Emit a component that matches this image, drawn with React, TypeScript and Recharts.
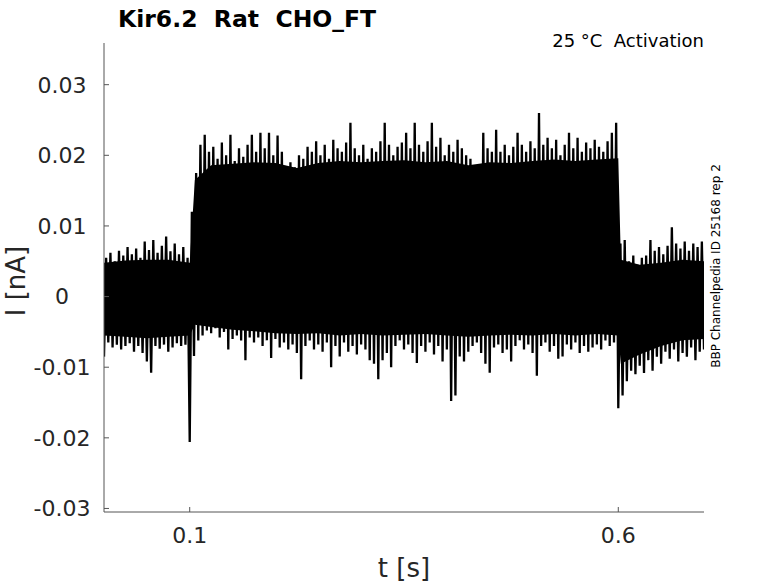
import { Area, ComposedChart, Line, XAxis, YAxis } from "recharts";

// ---- sweep envelope, every 5 ms (nA) ----
const STEP = 0.005;

// upper spikes
const traceHigh = [
  0.0055, 0.0062, 0.005, 0.0065, 0.0058, 0.007, 0.006, 0.0068, 0.0055, 0.0078,
  0.0066, 0.008, 0.0062, 0.0072, 0.0085, 0.0064, 0.0075, 0.006, 0.007, 0.0055,
  0.012, 0.0175, 0.0215, 0.0229, 0.0205, 0.0212, 0.0195, 0.0218, 0.02, 0.0229,
  0.0192, 0.021, 0.0198, 0.0215, 0.0229, 0.0205, 0.0232, 0.021, 0.0232, 0.02,
  0.0228, 0.0205, 0.0185, 0.019, 0.0183, 0.02, 0.0195, 0.0212, 0.0205, 0.022,
  0.02, 0.0215, 0.0195, 0.0222, 0.021, 0.0205, 0.0218, 0.0246, 0.021, 0.02,
  0.0215, 0.0195, 0.021, 0.0205, 0.022, 0.0246, 0.0215, 0.02, 0.0212, 0.0218,
  0.0232, 0.021, 0.0246, 0.0215, 0.0205, 0.022, 0.0246, 0.0212, 0.0225, 0.02,
  0.0215, 0.0205, 0.0222, 0.021, 0.02, 0.0195, 0.018, 0.0185, 0.0232, 0.021,
  0.0205, 0.0236, 0.0205, 0.0215, 0.02, 0.0212, 0.0232, 0.0215, 0.0205, 0.022,
  0.021, 0.026, 0.0215, 0.0225, 0.021, 0.0222, 0.02, 0.0215, 0.0232, 0.021,
  0.0225, 0.0205, 0.0218, 0.021, 0.0222, 0.0212, 0.0205, 0.022, 0.0232, 0.0246,
  0.0075, 0.008, 0.005, 0.0058, 0.0045, 0.0055, 0.0058, 0.008, 0.0065, 0.007,
  0.006, 0.0072, 0.0098, 0.0075, 0.0068, 0.0078, 0.0065, 0.0075, 0.007, 0.0078,
  0.006,
];

// lower spikes
const traceLow = [
  -0.0085, -0.0065, -0.0072, -0.0068, -0.0075, -0.007, -0.0066, -0.0078, -0.007, -0.008,
  -0.0092, -0.0108, -0.007, -0.0074, -0.0068, -0.0078, -0.0072, -0.0066, -0.007, -0.0068,
  -0.0206, -0.0084, -0.0062, -0.0055, -0.0048, -0.0052, -0.0045, -0.0058, -0.005, -0.0075,
  -0.006, -0.0055, -0.0062, -0.009, -0.0058, -0.0065, -0.0058, -0.007, -0.0062, -0.0087,
  -0.006, -0.0072, -0.0065, -0.0075, -0.0068, -0.008, -0.0117, -0.007, -0.0062, -0.0075,
  -0.0068, -0.0078, -0.0065, -0.01, -0.007, -0.0085, -0.0065, -0.0078, -0.007, -0.0082,
  -0.0068, -0.0075, -0.009, -0.0095, -0.0117, -0.009, -0.008, -0.01, -0.007, -0.0062,
  -0.0075, -0.0068, -0.008, -0.0094, -0.007, -0.0078, -0.0065, -0.0082, -0.007, -0.0092,
  -0.0075, -0.0148, -0.014, -0.0085, -0.0092, -0.0078, -0.007, -0.0065, -0.008, -0.0095,
  -0.0108, -0.0072, -0.0068, -0.008, -0.0075, -0.0092, -0.007, -0.0062, -0.0075, -0.0068,
  -0.008, -0.0112, -0.007, -0.0065, -0.0078, -0.007, -0.0088, -0.0085, -0.0068, -0.0075,
  -0.0065, -0.008, -0.007, -0.0078, -0.0072, -0.0068, -0.0075, -0.0062, -0.007, -0.0065,
  -0.0158, -0.014, -0.012, -0.0105, -0.011, -0.0098, -0.0108, -0.009, -0.0105, -0.0085,
  -0.0095, -0.0078, -0.0088, -0.0075, -0.0092, -0.008, -0.0085, -0.0072, -0.009, -0.0078,
  -0.0075,
];

// dense body of the overlaid sweeps
const coreT = [
  0, 0.025, 0.05, 0.075, 0.1, 0.106, 0.125, 0.15, 0.175, 0.2, 0.225, 0.25, 0.275, 0.3, 0.325,
  0.35, 0.375, 0.4, 0.425, 0.45, 0.475, 0.5, 0.525, 0.55, 0.575, 0.6, 0.603, 0.625, 0.65,
  0.675, 0.7,
];
const coreHigh = [
  0.0048, 0.0051, 0.0052, 0.0052, 0.0048, 0.0165, 0.0186, 0.0188, 0.019, 0.0189, 0.0182,
  0.0189, 0.0192, 0.019, 0.0192, 0.0193, 0.019, 0.0192, 0.0186, 0.019, 0.0189, 0.0192,
  0.0194, 0.0192, 0.0194, 0.0196, 0.0052, 0.0045, 0.0048, 0.0052, 0.005,
];
const coreLow = [
  -0.0055, -0.0057, -0.0059, -0.0057, -0.0055, -0.004, -0.0043, -0.0047, -0.0049, -0.0052,
  -0.0053, -0.0052, -0.0055, -0.0053, -0.0055, -0.0054, -0.0053, -0.0055, -0.0057, -0.0055,
  -0.0054, -0.0055, -0.0053, -0.0055, -0.0053, -0.0055, -0.0095, -0.0082, -0.007, -0.0062,
  -0.006,
];

const xTicks = [0.1, 0.6];
const yTicks = [-0.03, -0.02, -0.01, 0, 0.01, 0.02, 0.03];

// low sample then high sample, half a step apart
const zigRows: { t: number; v: number }[] = [];
traceLow.forEach((lo, i) => {
  zigRows.push({ t: i * STEP, v: lo });
  zigRows.push({ t: i * STEP + STEP / 2, v: traceHigh[i] });
});

const coreRows = coreT.map((t, i) => ({ t, band: [coreLow[i], coreHigh[i]] }));

const FONT = "DejaVu Sans";
const TICK_COLOR = "#262626";

const fmtY = (v: number) => (v === 0 ? "0" : v.toFixed(2));

function YTick(props: any) {
  const { x, y, payload } = props;
  return (
    <text x={x} y={y} dy="0.36em" textAnchor="middle" fontSize={22} fontFamily={FONT} fill={TICK_COLOR}>
      {fmtY(payload.value)}
    </text>
  );
}

function XTick(props: any) {
  const { x, y, payload } = props;
  return (
    <text x={x} y={y} dy="0.36em" textAnchor="middle" fontSize={22} fontFamily={FONT} fill={TICK_COLOR}>
      {String(payload.value)}
    </text>
  );
}

export default function App() {
  return (
    <div
      style={{
        position: "absolute",
        left: 0,
        top: 0,
        width: 778,
        height: 583,
        background: "#fff",
        fontFamily: FONT,
      }}
    >
      <ComposedChart width={778} height={583} margin={{ top: 43, right: 74, bottom: 31, left: 44 }}>
        <XAxis
          type="number"
          dataKey="t"
          domain={[0, 0.7]}
          allowDataOverflow
          ticks={xTicks}
          height={40}
          tickSize={-5}
          tickMargin={28}
          axisLine={{ stroke: "#555" }}
          tickLine={{ stroke: "#555" }}
          tick={<XTick />}
        />
        <YAxis
          type="number"
          domain={[-0.0305, 0.0359]}
          allowDataOverflow
          ticks={yTicks}
          width={60}
          tickSize={-5}
          tickMargin={47}
          axisLine={{ stroke: "#555" }}
          tickLine={{ stroke: "#555" }}
          tick={<YTick />}
        />
        <Area
          data={coreRows}
          dataKey="band"
          type="linear"
          fill="#000"
          fillOpacity={1}
          stroke="none"
          isAnimationActive={false}
        />
        <Line
          data={zigRows}
          dataKey="v"
          type="linear"
          stroke="#000"
          strokeWidth={2.3}
          dot={false}
          activeDot={false}
          isAnimationActive={false}
        />
      </ComposedChart>
      <svg
        width={778}
        height={583}
        style={{ position: "absolute", left: 0, top: 0, pointerEvents: "none" }}
        fontFamily={FONT}
      >
        <text x={118} y={27} fontSize={23.5} fontWeight="bold" fill="#000" style={{ whiteSpace: "pre" }}>
          {"Kir6.2  Rat  CHO_FT"}
        </text>
        <text x={704} y={47} fontSize={18} textAnchor="end" fill="#000" style={{ whiteSpace: "pre" }}>
          {"25 °C  Activation"}
        </text>
        <text
          x={720}
          y={266}
          fontSize={12}
          textAnchor="middle"
          fill="#000"
          transform="rotate(-90 720 266)"
        >
          BBP Channelpedia ID 25168 rep 2
        </text>
        <text
          x={25}
          y={281}
          fontSize={26}
          textAnchor="middle"
          fill={TICK_COLOR}
          transform="rotate(-90 25 281)"
        >
          I [nA]
        </text>
        <text x={404} y={577} fontSize={26} textAnchor="middle" fill={TICK_COLOR}>
          t [s]
        </text>
      </svg>
    </div>
  );
}
